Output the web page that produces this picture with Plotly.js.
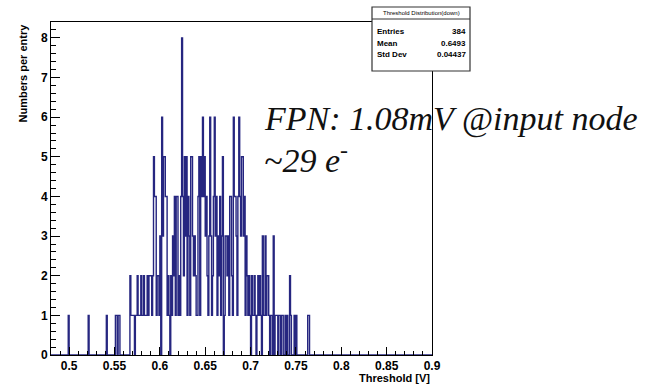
<!DOCTYPE html>
<html>
<head>
<meta charset="utf-8">
<script src="https://cdn.plot.ly/plotly-3.0.1.min.js"></script>
<style>html,body{margin:0;padding:0;background:#fff;}#chart{width:648px;height:389px;}</style>
</head>
<body>
<div id="chart"></div>
<script>
// Histogram: bin lower edges in mV (bin width 1 mV) and counts (non-zero bins only)
const binMV = [499,521,541,551,552,554,555,
 567,568,569,570,571,573,574,575,576,577,578,579,580,581,582,583,584,585,586,587,588,589,590,591,592,593,594,595,596,597,598,599,600,
 602,603,604,605,606,607,608,609,610,612,613,614,615,616,617,618,619,620,621,622,623,624,625,626,627,628,629,630,631,632,633,634,635,636,637,638,639,640,641,642,643,644,645,646,647,648,649,650,651,652,653,654,655,656,657,658,659,660,661,662,663,664,665,666,667,668,669,
 671,672,673,674,675,676,677,678,679,680,681,682,683,684,685,686,687,688,689,690,691,692,693,694,695,696,697,698,699,
 701,702,703,704,705,707,708,709,710,711,713,714,715,716,717,718,719,720,722,723,725,727,728,729,731,732,734,735,738,740,743,744,748,750,763,764];
const binCount = [1,1,1,1,1,1,1,
 2,1,1,1,1,1,1,2,1,1,1,2,1,1,2,1,1,1,2,1,2,2,2,1,2,5,4,4,1,2,2,1,3,
 6,3,5,5,4,4,1,2,1,2,1,3,2,4,1,4,4,1,2,1,4,8,4,2,5,3,5,1,4,3,1,5,5,3,2,3,2,1,1,4,5,1,5,4,6,4,5,3,4,2,1,3,6,3,1,2,4,6,3,4,1,3,2,4,1,3,5,
 1,3,3,2,3,1,4,4,2,1,6,4,4,3,1,4,6,4,3,5,5,3,4,1,3,2,1,2,1,
 2,1,1,2,1,1,2,1,2,1,3,1,1,3,1,2,2,1,1,1,3,1,1,1,1,1,1,1,1,1,2,1,1,1,1,1];
const histLowMV = 480, histHighMV = 900;

const xTickVals = [0.5,0.55,0.6,0.65,0.7,0.75,0.8,0.85,0.9];
const xTickText = ["0.5","0.55","0.6","0.65","0.7","0.75","0.8","0.85","0.9"];
const yTickVals = [0,1,2,3,4,5,6,7,8];
const yTickText = ["0","1","2","3","4","5","6","7","8"];

const statsTitle = "Threshold Distribution(down)";
const statsLabels = ["Entries","Mean","Std Dev"];
const statsValues = ["384","0.6493","0.04437"];

// build full step outline
const nb = histHighMV - histLowMV;
const full = new Array(nb).fill(0);
binMV.forEach((b,i)=>{ full[b-histLowMV] = binCount[i]; });
const xs = [], ys = [];
for (let i=0;i<nb;i++){ xs.push((histLowMV+i)/1000); ys.push(full[i]); }
xs.push(histHighMV/1000); ys.push(full[nb-1]);

const W=648,H=389, L=51,R=432,T=22,B=355;
const px = v => (v-L)/(R-L);
const py = v => (B-v)/(B-T);

const trace = {
  type:'scatter', mode:'lines', x:xs, y:ys,
  line:{shape:'hv', color:'#262680', width:1.4},
  hoverinfo:'skip'
};

const sans = 'Liberation Sans, Arial, sans-serif';
const serifFont = {family:'Liberation Serif',size:34,color:'#111',style:'italic'};
const annotations = [
  {xref:'paper',yref:'paper',x:px(22),y:1,xanchor:'center',yanchor:'top',textangle:-90,
   text:'Numbers per entry',showarrow:false,font:{family:sans,size:11,color:'#000',weight:'bold'}},
  {xref:'paper',yref:'paper',x:1,y:py(378),xanchor:'right',yanchor:'middle',
   text:'Threshold [V]',showarrow:false,font:{family:sans,size:11,color:'#000',weight:'bold'}},
  {xref:'paper',yref:'paper',x:px(262),y:py(119),xanchor:'left',yanchor:'middle',
   text:'FPN: 1.08mV @input node',showarrow:false,font:serifFont},
  {xref:'paper',yref:'paper',x:px(262),y:py(158),xanchor:'left',yanchor:'middle',
   text:'~29 e<sup>-</sup>',showarrow:false,font:serifFont},
  {xref:'paper',yref:'paper',x:px(421),y:py(13.5),xanchor:'center',yanchor:'middle',
   text:statsTitle,showarrow:false,font:{family:sans,size:6,color:'#000'}}
];
const rowY = [31.5,43.3,55];
statsLabels.forEach((lab,i)=>{
  annotations.push({xref:'paper',yref:'paper',x:px(375),y:py(rowY[i]),xanchor:'left',yanchor:'middle',
    text:lab,showarrow:false,font:{family:sans,size:8,color:'#000',weight:'bold'}});
  annotations.push({xref:'paper',yref:'paper',x:px(468),y:py(rowY[i]),xanchor:'right',yanchor:'middle',
    text:statsValues[i],showarrow:false,font:{family:sans,size:8,color:'#000',weight:'bold'}});
});

const shapes = [
  {type:'rect',xref:'paper',yref:'paper',x0:px(372),x1:px(470),y0:py(71),y1:py(7),
   line:{color:'#333',width:1.2},fillcolor:'#fff',layer:'above'},
  {type:'line',xref:'paper',yref:'paper',x0:px(372),x1:px(470),y0:py(19),y1:py(19),
   line:{color:'#333',width:1},layer:'above'}
];

const axisCommon = {showgrid:false, zeroline:false, showline:true, mirror:true,
  linecolor:'#000', linewidth:1, ticks:'inside', tickcolor:'#000', tickwidth:1,
  tickfont:{family:sans,size:12,color:'#000',weight:'bold'}, fixedrange:true};

const layout = {
  width:W, height:H,
  margin:{l:L, r:W-R, t:T, b:H-B, pad:0},
  paper_bgcolor:'#fff', plot_bgcolor:'#fff',
  showlegend:false,
  xaxis:Object.assign({}, axisCommon, {range:[histLowMV/1000, histHighMV/1000],
    tickmode:'array', tickvals:xTickVals, ticktext:xTickText, ticklen:8,
    minor:{tickmode:'linear', tick0:0.48, dtick:0.01, ticks:'inside', ticklen:4, tickcolor:'#000'}}),
  yaxis:Object.assign({}, axisCommon, {range:[0,8.4],
    tickmode:'array', tickvals:yTickVals, ticktext:yTickText, ticklen:9,
    minor:{tickmode:'linear', tick0:0, dtick:0.2, ticks:'inside', ticklen:5, tickcolor:'#000'}}),
  annotations:annotations,
  shapes:shapes
};

Plotly.newPlot('chart',[trace],layout,{displayModeBar:false, staticPlot:true});
</script>
</body>
</html>
